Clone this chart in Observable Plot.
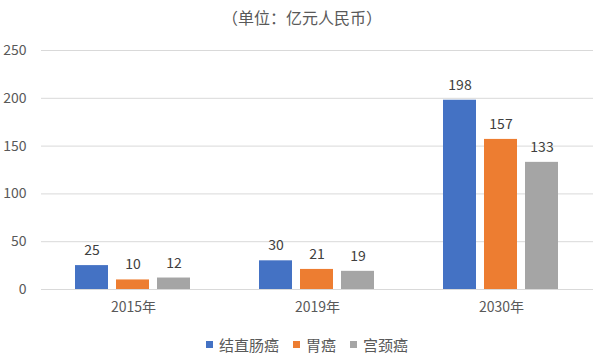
<!DOCTYPE html>
<html>
<head>
<meta charset="utf-8">
<script src="https://cdn.jsdelivr.net/npm/d3@7"></script>
<script src="https://cdn.jsdelivr.net/npm/@observablehq/plot@0.6"></script>
<style>
  body { margin: 0; background: #fff; font-family: "Noto Sans CJK SC", "Noto Sans", sans-serif; color: #595959; }
  #wrap { width: 600px; height: 362px; position: relative; overflow: hidden; }
  #title { height: 34px; line-height: 34px; text-align: center; font-size: 16px; padding-left: 4px; }
  #legend { position: absolute; top: 333px; left: 0; width: 600px; height: 22px; display: flex; justify-content: center; align-items: center; font-size: 15px; gap: 14px; padding-left: 7px; }
  .item { display: flex; align-items: center; }
  .sw { width: 7px; height: 7px; margin-right: 6px; display: inline-block; }
</style>
</head>
<body>
<div id="wrap">
  <div id="title">（单位：亿元人民币）</div>
  <div id="chart"></div>
  <div id="legend"></div>
</div>
<script>
const years = ["2015年", "2019年", "2030年"];
const series = ["结直肠癌", "胃癌", "宫颈癌"];
const colorectal = [25, 30, 198];
const gastric = [10, 21, 157];
const cervical = [12, 19, 133];
const yTicks = [0, 50, 100, 150, 200, 250];
const colors = ["#4472C4", "#ED7D31", "#A5A5A5"];

const valuesBySeries = [colorectal, gastric, cervical];
const data = [];
years.forEach((yr, i) => {
  series.forEach((s, j) => {
    data.push({ year: yr, series: s, value: valuesBySeries[j][i] });
  });
});

const chart = Plot.plot({
  width: 600,
  height: 294,
  marginTop: 16,
  marginBottom: 39,
  marginLeft: 40,
  marginRight: 7,
  style: { fontFamily: "'Noto Sans CJK SC', 'Noto Sans', sans-serif", fontSize: "14px", color: "#595959", background: "transparent" },
  fx: { domain: years, padding: 0, label: null, axis: "bottom", tickSize: 0, tickPadding: 13 },
  x: { domain: series, paddingInner: 0.195, paddingOuter: 0.84, axis: null },
  y: { domain: [0, 250], ticks: yTicks, label: null, tickSize: 0, tickPadding: 15 },
  color: { domain: series, range: colors },
  marks: [
    Plot.ruleY(yTicks, { stroke: "#d9d9d9", strokeWidth: 1 }),
    Plot.barY(data, { fx: "year", x: "series", y: "value", fill: "series" }),
    Plot.text(data, { fx: "year", x: "series", y: "value", text: d => String(d.value), dy: -15, fill: "#404040", fontSize: 14 })
  ]
});
document.getElementById("chart").appendChild(chart);

const legend = document.getElementById("legend");
series.forEach((s, i) => {
  const item = document.createElement("span");
  item.className = "item";
  const sw = document.createElement("span");
  sw.className = "sw";
  sw.style.background = colors[i];
  item.appendChild(sw);
  item.appendChild(document.createTextNode(s));
  legend.appendChild(item);
});
</script>
</body>
</html>
